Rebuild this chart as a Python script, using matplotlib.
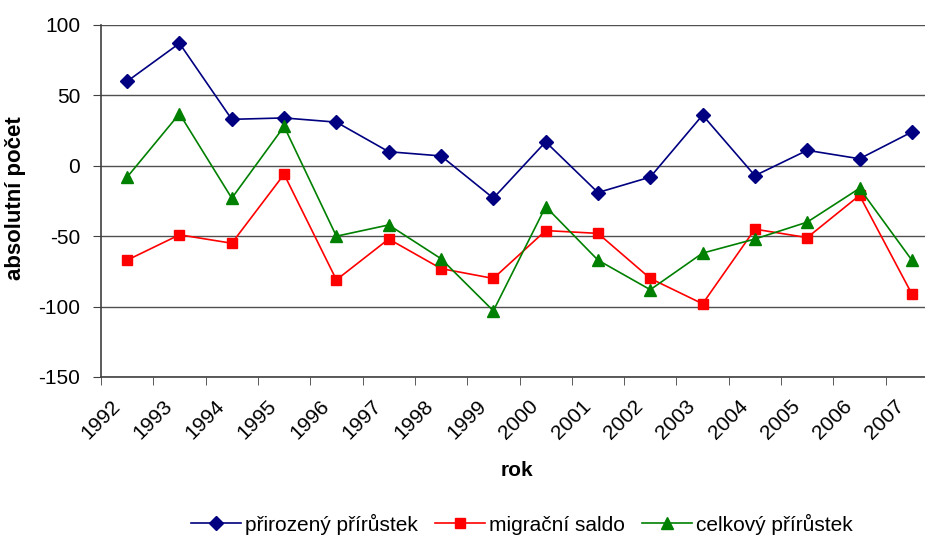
import matplotlib
matplotlib.use("Agg")
import matplotlib.pyplot as plt
import matplotlib.transforms as mtransforms
from matplotlib.ticker import FixedLocator

plt.rcParams['font.family'] = ['Liberation Sans', 'DejaVu Sans']
plt.rcParams['axes.unicode_minus'] = False

# data
years = ['1992', '1993', '1994', '1995', '1996', '1997', '1998', '1999',
         '2000', '2001', '2002', '2003', '2004', '2005', '2006', '2007']
prirozeny = [60, 87, 33, 34, 31, 10, 7, -23, 17, -19, -8, 36, -7, 11, 5, 24]
migracni = [-67, -49, -55, -6, -81, -52, -73, -80, -46, -48, -80, -98, -45, -51, -21, -91]
celkovy = [-8, 37, -23, 28, -50, -42, -66, -103, -29, -67, -88, -62, -52, -40, -16, -67]

fig = plt.figure(figsize=(9.25, 5.39), dpi=100)
# plot area runs a little past the right edge of the picture, as in the original
ax = fig.add_axes([101 / 925, 162 / 539, 837 / 925, 352 / 539])

x = list(range(len(years)))
l1, = ax.plot(x, prirozeny, color='#000080', marker='D', markersize=7, lw=1.2,
              label='přirozený přírůstek')
l2, = ax.plot(x, migracni, color='#FF0000', marker='s', markersize=7, lw=1.2,
              label='migrační saldo')
l3, = ax.plot(x, celkovy, color='#008000', marker='^', markersize=8, lw=1.2,
              label='celkový přírůstek')

ax.set_xlim(-0.5, len(years) - 0.5)
ax.set_ylim(-150, 100)
ax.set_yticks([-150, -100, -50, 0, 50, 100])
ax.yaxis.grid(True, color='#505050', lw=1)
ax.set_axisbelow(True)

ax.set_xticks(x)
ax.set_xticklabels(years, rotation=45, ha='right', rotation_mode='anchor')
ax.xaxis.set_minor_locator(FixedLocator([i + 0.5 for i in range(-1, len(years))]))
ax.tick_params(axis='x', which='major', length=0, pad=8, labelsize=15)
ax.tick_params(axis='x', which='minor', length=6, color='#404040')
ax.tick_params(axis='y', length=6, pad=9, labelsize=15, color='#404040')

# shift the rotated year labels a bit down-left like in the original
shift = mtransforms.ScaledTranslation(-17 / 100, -8 / 100, fig.dpi_scale_trans)
for lab in ax.get_xticklabels():
    lab.set_transform(lab.get_transform() + shift)

for s in ['top', 'right']:
    ax.spines[s].set_visible(False)
for s in ['left', 'bottom']:
    ax.spines[s].set_color('#404040')
    ax.spines[s].set_linewidth(1.2)

ax.set_xlabel('rok', fontsize=15, fontweight='bold')
ax.xaxis.set_label_coords((517 - 101) / 837, (377 - 461) / 352)
ax.set_ylabel('absolutní počet', fontsize=16, fontweight='bold')
ax.yaxis.set_label_coords((26 - 101) / 837, (377 - 198) / 352)

fig.legend(handles=[l1, l2, l3], loc='center', bbox_to_anchor=(522 / 925, 15 / 539),
           ncol=3, frameon=False, fontsize=15, handlelength=2.4,
           handletextpad=0.2, columnspacing=0.8)

fig.savefig('out.png', dpi=100)
